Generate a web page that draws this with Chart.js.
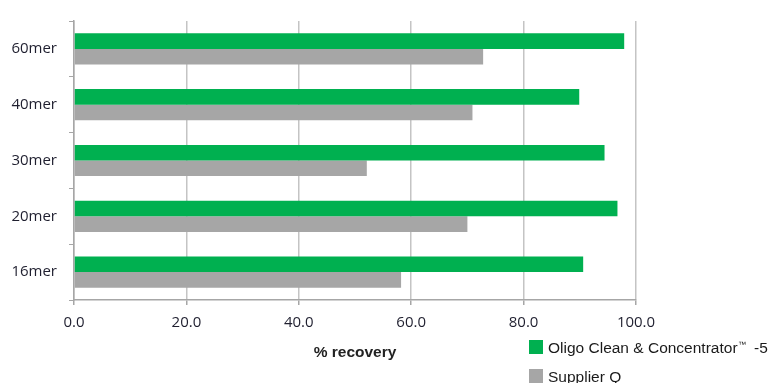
<!DOCTYPE html>
<html>
<head>
<meta charset="utf-8">
<script src="https://cdn.jsdelivr.net/npm/chart.js@4.4.1/dist/chart.umd.min.js"></script>
<style>
  html, body { margin: 0; padding: 0; background: #fff; }
  #wrap { position: relative; width: 771px; height: 383px; }
</style>
</head>
<body>
<div id="wrap"><canvas id="chart" width="771" height="383"></canvas></div>
<script>
// data
var categories = ['60mer', '40mer', '30mer', '20mer', '16mer'];
var oligoValues = [97.9, 89.9, 94.4, 96.7, 90.6];
var supplierValues = [72.8, 70.9, 52.1, 70.0, 58.2];
var seriesNames = ['Oligo Clean & Concentrator\u2122 -5', 'Supplier Q'];
var xTicks = [0, 20, 40, 60, 80, 100];

var green = '#00b050';
var grey = '#a6a6a6';

// stacked legend in the bottom-right corner, trademark sign drawn small and raised
var sideLegend = {
  id: 'sideLegend',
  afterDraw: function (chart) {
    var ctx = chart.ctx;
    var font = '15.5px "Liberation Sans", Arial, sans-serif';
    var small = '8px "Liberation Sans", Arial, sans-serif';
    ctx.save();
    ctx.textBaseline = 'alphabetic';
    chart.data.datasets.forEach(function (ds, i) {
      var y = 340 + i * 29;
      ctx.fillStyle = ds.backgroundColor;
      ctx.fillRect(529, y, 14, 14);
      ctx.fillStyle = '#1a1a1a';
      ctx.font = font;
      var base = y + 13;
      var parts = ds.label.split('\u2122');
      var x = 548;
      ctx.fillText(parts[0], x, base);
      if (parts.length === 2) {
        x += ctx.measureText(parts[0]).width + 0.5;
        ctx.font = small;
        ctx.fillText('\u2122', x, base - 6);
        x += ctx.measureText('\u2122').width + 8;
        ctx.font = font;
        ctx.fillText(parts[1].trim(), x, base);
      }
    });
    ctx.restore();
  }
};

new Chart(document.getElementById('chart'), {
  type: 'bar',
  data: {
    labels: categories,
    datasets: [
      { label: seriesNames[0], data: oligoValues, backgroundColor: green },
      { label: seriesNames[1], data: supplierValues, backgroundColor: grey }
    ]
  },
  options: {
    indexAxis: 'y',
    responsive: false,
    animation: false,
    devicePixelRatio: 1,
    categoryPercentage: 0.56,
    barPercentage: 1.0,
    layout: { padding: { left: 0, top: 14, right: 135, bottom: 0 } },
    plugins: {
      legend: { display: false },
      tooltip: { enabled: false }
    },
    scales: {
      x: {
        min: 0,
        max: 100,
        afterBuildTicks: function (axis) {
          axis.ticks = xTicks.map(function (v) { return { value: v }; });
        },
        afterFit: function (axis) { axis.height = 83; },
        grid: { color: '#c4c4c4', lineWidth: 1.5, drawTicks: true, tickLength: 5, tickColor: '#a6a6a6' },
        border: { color: '#a6a6a6', width: 1.5 },
        ticks: {
          padding: 9,
          color: '#1f1f2f',
          font: { family: '"Open Sans", sans-serif', size: 15 },
          callback: function (v) { return Number(v).toFixed(1); }
        },
        title: {
          display: true,
          text: '% recovery',
          color: '#222',
          font: { family: '"Liberation Sans", Arial, sans-serif', size: 15.5, weight: 'bold' },
          padding: { top: 0, bottom: 21 }
        }
      },
      y: {
        afterFit: function (axis) { axis.width = 74; },
        grid: { drawOnChartArea: false, drawTicks: true, tickLength: 5, tickColor: '#a6a6a6' },
        border: { color: '#a6a6a6', width: 1.5 },
        ticks: {
          padding: 12,
          color: '#1f1f2f',
          font: { family: '"Open Sans", sans-serif', size: 15 }
        }
      }
    }
  },
  plugins: [sideLegend]
});
</script>
</body>
</html>
